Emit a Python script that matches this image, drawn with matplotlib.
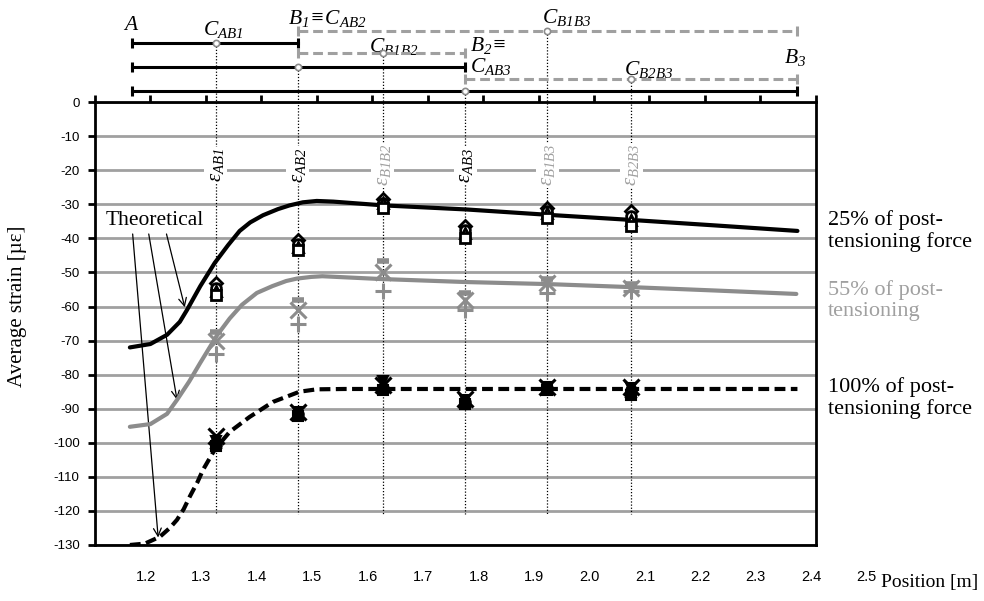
import matplotlib
matplotlib.use("Agg")
import matplotlib.pyplot as plt
import matplotlib.transforms as mtransforms

plt.rcParams["mathtext.fontset"] = "custom"
plt.rcParams["mathtext.it"] = "Liberation Serif:italic"
plt.rcParams["mathtext.rm"] = "Liberation Serif:italic"

SERIF = "Liberation Serif"
NARROW = ["Liberation Sans Narrow", "Liberation Sans"]
GRAY = "#8c8c8c"
LIGHT = "#a0a0a0"

# ---- data -----------------------------------------------------------------
# theoretical curves
x25 = [1.263, 1.30, 1.33, 1.353, 1.366, 1.39, 1.416, 1.44, 1.461, 1.48, 1.503,
       1.53, 1.551, 1.575, 1.60, 1.63, 1.72, 1.87, 2.02, 2.17, 2.32, 2.467]
y25 = [-72.0, -71.0, -68.3, -64.5, -61.0, -54.0, -47.2, -42.0, -37.8, -35.3, -33.2,
       -31.4, -30.3, -29.4, -29.0, -29.2, -30.3, -31.5, -33.1, -34.6, -36.2, -37.8]

x55 = [1.263, 1.30, 1.33, 1.348, 1.37, 1.39, 1.42, 1.443, 1.465, 1.492, 1.52,
       1.545, 1.564, 1.59, 1.61, 1.713, 1.868, 2.016, 2.167, 2.32, 2.465]
y55 = [-95.3, -94.5, -91.5, -87.4, -82.0, -76.5, -68.5, -63.5, -59.5, -56.0, -54.0,
       -52.5, -51.8, -51.3, -51.1, -51.9, -52.8, -53.4, -54.3, -55.3, -56.3]

x100 = [1.263, 1.29, 1.317, 1.335, 1.348, 1.36, 1.371, 1.385, 1.395, 1.416, 1.443,
        1.479, 1.521, 1.569, 1.60, 1.65, 2.467]
y100 = [-130.0, -129.6, -127.6, -125.0, -122.6, -119.5, -115.8, -111.5, -107.9, -102.0,
        -96.8, -92.4, -88.0, -85.0, -84.3, -84.2, -84.2]

# measurement positions (centres of gauge bases)
pos = [1.418, 1.566, 1.719, 1.868, 2.016, 2.167]
eps_labels = [r"$\varepsilon_{AB1}$", r"$\varepsilon_{AB2}$", r"$\varepsilon_{B1B2}$",
              r"$\varepsilon_{AB3}$", r"$\varepsilon_{B1B3}$", r"$\varepsilon_{B2B3}$"]
eps_gray = [False, False, True, False, True, True]

# measured strains, 25 % of post-tensioning force
m25_diamond = [-53.0, -40.5, -28.5, -36.5, -31.0, -32.0]
m25_circle = [-54.5, -41.5, -29.5, -37.5, -32.0, -33.5]
m25_triangle = [-55.5, -42.5, -29.5, -38.5, -32.5, -34.5]
m25_square = [-56.5, -43.5, -31.0, -40.0, -34.0, -36.5]

# 55 %
m55_dash = [-67.5, -58.0, -46.5, -56.0, -52.0, -53.5]
m55_x = [-70.0, -61.0, -50.0, -58.0, -53.0, -54.5]
m55_plus = [-74.0, -65.0, -55.5, -61.0, -56.0, -55.5]

# 100 %
m100_x = [-98.0, -91.0, -83.0, -87.0, -83.5, -83.5]
m100_tridown = [-99.5, -91.0, -82.0, -87.5, -83.5, -84.0]
m100_triangle = [-100.0, -91.5, -83.5, -88.0, -84.0, -85.0]
m100_circle = [-100.5, -91.5, -84.0, -88.0, -84.0, -84.5]
m100_square = [-101.0, -92.0, -84.5, -88.5, -84.5, -86.0]

# schematic of gauge bases above the chart
A, B1, B2, B3 = 1.267, 1.566, 1.868, 2.467
xticks = [1.2 + 0.1 * i for i in range(14)]
yticks = list(range(-130, 1, 10))

# ---- figure ---------------------------------------------------------------
fig = plt.figure(figsize=(9.84, 6.01), dpi=100)
ax = fig.add_axes([0.0965, 0.0932, 0.7325, 0.7368])
ax.set_xlim(1.2, 2.5)
ax.set_ylim(-130, 0)
ax.set_axisbelow(True)
ax.yaxis.grid(True, color=LIGHT, lw=2.0)

for s in ax.spines.values():
    s.set_linewidth(2.0)
    s.set_color("black")

ax.set_yticks(yticks)
ax.set_yticklabels([str(v) for v in yticks], family=NARROW, fontsize=9.5)
ax.set_xticks(xticks)
ax.set_xticklabels([f"{v:.1f}" for v in xticks], family=NARROW, fontsize=10.5)
ax.tick_params(axis="y", direction="out", length=5, width=2, pad=6)
ax.tick_params(axis="x", top=True, bottom=False, labelbottom=True, direction="out",
               length=5, width=2, pad=13)
shift = mtransforms.ScaledTranslation(0.51, 0, fig.dpi_scale_trans)
for lab in ax.get_xticklabels():
    lab.set_transform(lab.get_transform() + shift)

# dotted verticals from the schematic down into the plot
dot_tops = [17.4, 10.4, 14.3, 3.3, 20.9, 6.7]
for x, top in zip(pos, dot_tops):
    ax.plot([x, x], [top, -121], color="black", lw=0.9, ls=(0, (1, 1.5)),
            zorder=2, clip_on=False)

# epsilon labels
for x, lab, g in zip(pos, eps_labels, eps_gray):
    ax.text(x, -18.5, lab, rotation=90, ha="center", va="center", fontsize=15,
            color=LIGHT if g else "black", zorder=3,
            bbox=dict(facecolor="white", edgecolor="none", pad=1.0))

# theoretical curves
ax.plot(x25, y25, color="black", lw=3, zorder=4, solid_capstyle="round")
ax.plot(x55, y55, color=GRAY, lw=3, zorder=4, solid_capstyle="round")
ax.plot(x100, y100, color="black", lw=3, ls=(0, (2.6, 1.3)), zorder=4)

# measurements
mk = dict(ls="none", zorder=5, clip_on=False)
for vals, m in [(m25_diamond, "D"), (m25_circle, "o"), (m25_triangle, "^"), (m25_square, "s")]:
    ax.plot(pos, vals, marker=m, ms=7 if m != "D" else 6.5, mfc="white", mec="black",
            mew=2, **mk)
ax.plot(pos, m55_dash, marker="_", ms=9, mec=GRAY, mew=4, **mk)
ax.plot(pos, m55_x, marker="x", ms=12, mec=GRAY, mew=2.2, **mk)
ax.plot(pos, m55_plus, marker="+", ms=12, mec=GRAY, mew=2.2, **mk)
for vals, m in [(m100_tridown, "v"), (m100_triangle, "^"), (m100_circle, "o"),
                (m100_square, "s")]:
    ax.plot(pos, vals, marker=m, ms=7.5, mfc="black", mec="black", mew=1.5, **mk)
ax.plot(pos, m100_x, marker="x", ms=11, mec="black", mew=2.2, **mk)

# "Theoretical" with arrows
ax.text(1.308, -34.6, "Theoretical", family=SERIF, fontsize=15.5, ha="center",
        va="center")
for start, end in [((1.329, -38.7), (1.362, -60.2)),
                   ((1.297, -38.7), (1.348, -87.4)),
                   ((1.268, -38.7), (1.314, -127.8))]:
    ax.annotate("", xy=end, xytext=start,
                arrowprops=dict(arrowstyle="->", lw=0.9, color="black",
                                mutation_scale=14, shrinkA=0, shrinkB=0))

# schematic of bases (above the axes)
sk = dict(clip_on=False, zorder=6)
dash = (0, (3.2, 1.6))


def bar(x0, x1, y, color, ls, circ=None):
    ax.plot([x0, x1], [y, y], color=color, lw=2.2, ls=ls, **sk)
    ax.plot([x0, x1], [y, y], ls="none", marker="|", ms=7, mew=2.2, mec=color, **sk)
    if circ is not None:
        ax.plot([circ], [y], ls="none", marker="o", ms=4.5, mfc="white", mec=GRAY,
                mew=1.2, zorder=7, clip_on=False)


bar(B1, B3, 20.9, LIGHT, dash, circ=2.016)
bar(A, B1, 17.4, "black", "-", circ=1.418)
bar(B1, B2, 14.3, LIGHT, dash, circ=1.719)
bar(A, B2, 10.4, "black", "-", circ=1.566)
bar(B2, B3, 6.7, LIGHT, dash, circ=2.167)
bar(A, B3, 3.3, "black", "-", circ=1.868)

tk = dict(fontsize=15.5, va="center", ha="left", clip_on=False, color="black")
ax.text(1.250, 23.0, r"$A$", **tk)
ax.text(1.395, 21.4, r"$C_{AB1}$", **tk)
ax.text(1.548, 24.6, r"$B_{1}\!\equiv\!C_{AB2}$", **tk)
ax.text(1.695, 16.4, r"$C_{B1B2}$", **tk)
ax.text(1.876, 16.6, r"$B_{2}\!\equiv$", **tk)
ax.text(1.876, 10.6, r"$C_{AB3}$", **tk)
ax.text(2.007, 25.0, r"$C_{B1B3}$", **tk)
ax.text(2.155, 9.6, r"$C_{B2B3}$", **tk)
ax.text(2.443, 13.2, r"$B_{3}$", **tk)

# side labels
side = dict(family=SERIF, fontsize=16, va="center", ha="left", linespacing=1.15)
fig.text(0.8415, 0.6156, "25% of post-\ntensioning force", **side)
fig.text(0.8415, 0.4995, "55% of post-\ntensioning", color=LIGHT, **side)
fig.text(0.8415, 0.338, "100% of post-\ntensioning force", **side)

fig.text(0.018, 0.49, "Average strain [µε]", family=SERIF, fontsize=15,
         rotation=90, ha="center", va="center")
fig.text(0.945, 0.030, "Position [m]", family=SERIF, fontsize=14, ha="center",
         va="center")

fig.savefig("out.png", dpi=100)
